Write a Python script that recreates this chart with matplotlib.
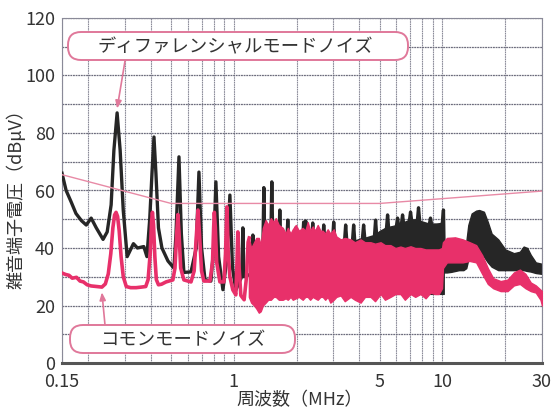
import numpy as np
import matplotlib
matplotlib.use("Agg")
import matplotlib.pyplot as plt
from matplotlib.patches import FancyBboxPatch
from matplotlib.transforms import IdentityTransform
from matplotlib.ticker import FixedLocator, NullFormatter

plt.rcParams['font.family'] = ['Noto Sans CJK JP', 'DejaVu Sans']

# ---------------- data ----------------
x_ticks = [0.15, 1, 5, 10, 30]
x_ticklabels = ["0.15", "1", "5", "10", "30"]
x_grid = [0.2, 0.3, 0.4, 0.5, 0.6, 0.7, 0.8, 0.9, 2, 3, 4, 6, 7, 8, 9, 20]
y_ticks = [0, 20, 40, 60, 80, 100, 120]
y_grid = [10, 30, 50, 70, 90, 110]

# limit line (thin pink)
limit_f = [0.15, 0.5, 5.0, 30.0]
limit_db = [65.5, 55.5, 55.5, 59.8]

# differential mode noise (black trace)
dm_f = [0.15, 0.157, 0.166, 0.175, 0.186, 0.196, 0.207, 0.219, 0.236, 0.247,
        0.258, 0.266, 0.2756, 0.285, 0.295, 0.308, 0.33, 0.345, 0.37, 0.383,
        0.395, 0.405, 0.414, 0.423, 0.435, 0.452, 0.483, 0.516, 0.528, 0.5455,
        0.56, 0.576, 0.623, 0.66, 0.68, 0.70, 0.727, 0.776, 0.80, 0.82,
        0.845, 0.886, 0.925, 0.957, 0.985, 1.022, 1.09, 1.104, 1.118, 1.215,
        1.233, 1.25, 1.375, 1.392, 1.41, 1.50, 1.52, 1.54, 1.64, 1.66,
        1.68, 1.79, 1.813, 1.835, 1.955, 1.981, 2.005, 2.13, 2.16, 2.185,
        2.211, 2.24, 2.36, 2.388, 2.415, 2.495, 2.523, 2.55, 2.665, 2.696,
        2.73, 2.97, 3.01, 3.05, 3.39, 3.435, 3.48, 3.70, 3.752, 3.80,
        4.13, 4.188, 4.245, 4.72, 4.779, 4.84, 5.38, 5.456, 5.53, 6.00,
        6.09, 6.18, 6.35, 6.437, 6.52, 6.93, 7.03, 7.13, 7.57, 7.677,
        7.78, 8.64, 8.761, 8.88, 9.97, 10.11, 10.2]
dm_db = [66, 60, 56, 52, 49.5, 48, 50.4, 47, 43, 45.6,
         55, 74, 87, 74, 53, 37, 41.5, 40, 40.5, 37,
         50, 66, 78.6, 66, 47, 40, 35.5, 33, 45, 71.7,
         45, 31.5, 31.7, 40, 66.4, 40, 29, 28.5, 40, 63,
         37, 25.5, 36, 58.4, 33, 25.4, 30, 47, 30, 31,
         44.5, 31, 36, 61, 36, 38, 63, 38, 40, 53.2,
         40, 40, 49.7, 40, 40, 47, 40, 41, 49, 42,
         49.4, 41, 41, 48.7, 41, 41, 46.3, 41, 42, 48,
         42, 42, 49, 42, 42, 48, 42, 42, 48, 42,
         43, 48, 43, 44, 49.7, 44, 46, 51.5, 46, 47,
         50.4, 47, 48, 51.5, 48, 49, 52.5, 49, 49, 54,
         49, 48, 50.4, 48, 48, 53.2, 36]

# black mass behind the pink band (3-10 MHz)
dm_mass_f = [2.9, 3.5, 4.0, 4.6, 5.0, 5.3, 5.6, 6.0, 6.5, 7.0, 7.5, 8.0, 8.5, 9.0, 9.5, 10.0, 10.15]
dm_mass_hi = [41, 42, 42.5, 44, 46, 47, 47.5, 48, 49, 50, 50, 49, 48, 48, 48.5, 49, 49]
dm_mass_lo = [24, 24, 24, 24, 24, 24, 24, 24, 24, 24, 24, 24, 24, 24, 24, 24, 24]

# black band above 10 MHz
dm_hf_f = [10.15, 10.5, 11, 12, 12.6, 13.0, 13.3, 13.8, 14.5, 15, 15.8, 16.5,
           17.2, 18.5, 20, 22, 23.5, 24.5, 25.5, 26.5, 28, 30]
dm_hf_hi = [40, 36, 35.8, 35.5, 36, 42, 48, 52, 53, 53.2, 52.6, 49,
            45, 43, 39.5, 38.2, 38.7, 40.5, 40, 37.6, 35, 34.5]
dm_hf_lo = [31.5, 31.5, 31.7, 32.3, 32.3, 33, 36, 38, 39, 38.5, 37, 35,
            33.5, 32.3, 32.3, 32.3, 32.3, 32.3, 32, 31.8, 31.3, 31]

# common mode noise (pink trace), line part
cm_f = [0.15, 0.156, 0.162, 0.168, 0.176, 0.183, 0.19, 0.198, 0.207, 0.22,
        0.233, 0.242, 0.25, 0.257, 0.263, 0.268, 0.2724, 0.277, 0.282, 0.288,
        0.295, 0.305, 0.32, 0.34, 0.36, 0.378, 0.388, 0.397, 0.403, 0.407,
        0.412, 0.418, 0.425, 0.435, 0.45, 0.473, 0.51, 0.522, 0.532, 0.539,
        0.546, 0.556, 0.576, 0.623, 0.645, 0.662, 0.673, 0.684, 0.70, 0.718,
        0.768, 0.79, 0.80, 0.806, 0.815, 0.827, 0.857, 0.896, 0.912, 0.926,
        0.94, 0.957, 0.989, 1.022, 1.035, 1.045, 1.056, 1.08, 1.12, 1.15,
        1.17, 1.185]
cm_db = [31.3, 30.8, 30.5, 29.5, 29.8, 28.5, 28.2, 27.2, 26.8, 26.6,
         26.4, 27.5, 31, 38, 47, 51.5, 52.4, 51, 46, 37,
         30, 26.6, 26.2, 26.2, 26.4, 26.6, 29, 38, 49, 52.4,
         48, 37, 29, 27.2, 27.4, 28.2, 28.9, 33, 45, 51.6,
         45, 33, 28.9, 28.2, 32, 45, 53.2, 45, 32, 28.5,
         28.5, 35, 47, 52.4, 47, 35, 28.2, 28.2, 38, 54.3,
         38, 30, 25.4, 23.7, 35, 45.6, 35, 23.5, 22, 30,
         42, 43.5]

# common mode noise, dense band (upper / lower envelope)
cm_band_f = [1.18, 1.21, 1.25, 1.28, 1.317, 1.345, 1.377, 1.42, 1.46, 1.504,
             1.55, 1.588, 1.642, 1.716, 1.77, 1.813, 1.87, 1.916, 1.981, 2.05,
             2.138, 2.2, 2.26, 2.32, 2.388, 2.45, 2.523, 2.6, 2.666, 2.74,
             2.817, 2.9, 3.01, 3.1, 3.252, 3.4, 3.626, 3.8, 4.05, 4.25,
             4.52, 4.75, 5.05, 5.3, 5.63, 5.95, 6.29, 6.6, 7.03, 7.4,
             7.84, 8.3, 8.76, 9.2, 9.6, 9.95, 10.05, 10.5, 11.5, 12.5,
             13.5, 14.5, 15.5, 16.5, 17.5, 19, 20.5, 22, 23.5, 25,
             26.5, 28, 29.5, 30]
cm_band_hi = [43.5, 40, 42, 43.5, 43.5, 41, 47, 49.7, 48, 50.4,
              49, 50.4, 48, 47, 45, 47, 45, 46.5, 48, 46,
              47, 46, 49, 46, 47.5, 46, 48, 46, 46, 45,
              46.5, 45, 46.5, 44, 43, 43.5, 43, 42, 43, 42,
              42, 41.5, 42, 41, 41, 40, 40.5, 40, 40.6, 40,
              40, 39.5, 39.5, 39.5, 39.5, 40, 42, 43.5, 43.7, 43,
              42, 41, 37.5, 33, 29.5, 28.5, 29, 31.5, 32.5, 31,
              28, 27, 25.5, 25]
cm_band_lo = [23, 21, 20, 19, 17.5, 18, 20, 21, 22, 22,
              23, 23, 22, 22, 22.5, 22, 23, 22, 22.5, 23,
              22, 23, 23, 22, 23, 22.5, 22, 23, 23, 22,
              23, 21, 22, 23, 23.5, 21.5, 23, 22, 21, 23,
              23, 21.5, 24, 22, 23, 24, 24, 22, 24, 23,
              24, 22.5, 24.5, 24, 24, 26, 33, 35, 35, 35,
              35.5, 35, 31, 27.5, 26, 25, 25, 27, 27.5, 26,
              25, 24.5, 22, 20]

label_dm = "ディファレンシャルモードノイズ"
label_cm = "コモンモードノイズ"
x_label = "周波数（MHz）"
y_label = "雑音端子電圧（dBμV）"

# ---------------- styling ----------------
W, H = 554, 411
PINK = '#e8306a'
PINK_BOX = '#e0789a'
PINK_LIMIT = '#e88aa6'
BLACK = '#262626'
TXT = '#333333'

fig = plt.figure(figsize=(W / 100, H / 100), dpi=100)
fig.patch.set_facecolor('white')
ax = fig.add_axes([62 / W, 1 - 363 / H, (542 - 62) / W, (363 - 18) / H])
ax.set_xscale('log')
ax.set_xlim(0.15, 30)
ax.set_ylim(0, 120)

ax.xaxis.set_major_locator(FixedLocator(x_ticks))
ax.set_xticklabels(x_ticklabels)
ax.xaxis.set_minor_locator(FixedLocator(x_grid))
ax.xaxis.set_minor_formatter(NullFormatter())
ax.yaxis.set_major_locator(FixedLocator(y_ticks))
ax.yaxis.set_minor_locator(FixedLocator(y_grid))
ax.yaxis.set_minor_formatter(NullFormatter())
ax.tick_params(which='both', length=0, labelsize=13, labelcolor=TXT)
ax.tick_params(axis='x', pad=7)
ax.tick_params(axis='y', pad=5)
ax.xaxis.grid(True, which='both', color='#8a8a98', lw=0.8, ls=(0, (1.5, 0.6)), zorder=1)
ax.yaxis.grid(True, which='both', color='#6c6c7c', lw=0.9, ls=(0, (1.5, 0.6)), zorder=1)
ax.set_axisbelow(True)
for s in ['left', 'top', 'right']:
    ax.spines[s].set_color('#8a8a98')
    ax.spines[s].set_linewidth(0.8)
    ax.spines[s].set_linestyle((0, (1.5, 0.6)))
ax.spines['bottom'].set_color('#555555')
ax.spines['bottom'].set_linewidth(2.2)

# traces
ax.fill_between(dm_mass_f, dm_mass_lo, dm_mass_hi, color=BLACK, lw=0.8, zorder=2)
ax.fill_between(dm_hf_f, dm_hf_lo, dm_hf_hi, color=BLACK, lw=1.0, zorder=2)
ax.plot(dm_f, dm_db, color=BLACK, lw=2.4, solid_joinstyle='round', zorder=3)
ax.fill_between(cm_band_f, cm_band_lo, cm_band_hi, color=PINK, lw=1.0, zorder=4)
ax.plot(cm_f, cm_db, color=PINK, lw=2.6, solid_joinstyle='round', zorder=5)
ax.plot(limit_f, limit_db, color=PINK_LIMIT, lw=1.0, zorder=6)

# annotation boxes (figure pixel coordinates, origin bottom-left)
ident = IdentityTransform()
box1 = FancyBboxPatch((68, H - 60), 340, 28, boxstyle='round,pad=0,rounding_size=13',
                      transform=ident, fc='white', ec=PINK_BOX, lw=1.4, zorder=10)
box2 = FancyBboxPatch((70, H - 353), 225, 28, boxstyle='round,pad=0,rounding_size=13',
                      transform=ident, fc='white', ec=PINK_BOX, lw=1.4, zorder=10)
fig.add_artist(box1)
fig.add_artist(box2)
fig.text(235, H - 47, label_dm, transform=ident, ha='center', va='center',
         fontsize=13.2, color=TXT, zorder=11)
fig.text(183, H - 340, label_cm, transform=ident, ha='center', va='center',
         fontsize=13.2, color=TXT, zorder=11)

i_pk = int(np.argmax(dm_db))
ax.annotate('', xy=(dm_f[i_pk], dm_db[i_pk] + 1.5), xycoords='data',
            xytext=(125, H - 61), textcoords='figure pixels',
            arrowprops=dict(arrowstyle='-|>,head_length=0.45,head_width=0.18',
                            color=PINK_BOX, lw=1.2, shrinkA=0, shrinkB=0),
            annotation_clip=False, zorder=12)
ax.annotate('', xy=(cm_f[10], cm_db[10] - 1.8), xycoords='data',
            xytext=(105, H - 325), textcoords='figure pixels',
            arrowprops=dict(arrowstyle='-|>,head_length=0.45,head_width=0.18',
                            color=PINK_BOX, lw=1.2, shrinkA=0, shrinkB=0),
            annotation_clip=False, zorder=12)

# axis titles
fig.text(16, H - 195, y_label, transform=ident, rotation=90, ha='center', va='center',
         fontsize=13, color=TXT)
fig.text(300, H - 400, x_label, transform=ident, ha='center', va='center',
         fontsize=13, color=TXT)

fig.savefig('out.png', dpi=100)
